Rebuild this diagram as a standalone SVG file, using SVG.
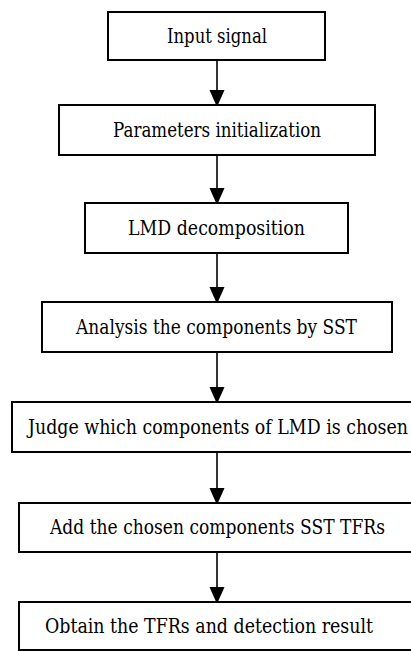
<svg xmlns="http://www.w3.org/2000/svg" width="411" height="651" viewBox="0 0 411 651">
  <style>
    .box { fill: #ffffff; stroke: #000000; stroke-width: 2; }
    .label { font-family: "DejaVu Serif", "Liberation Serif", serif; font-size: 20px; fill: #000000; text-anchor: middle; }
    .link { stroke: #000000; stroke-width: 1.6; fill: none; marker-end: url(#arrow); }
  </style>
  <defs>
    <marker id="arrow" viewBox="0 0 15 17" refX="15" refY="7.5" markerWidth="15" markerHeight="17" markerUnits="userSpaceOnUse" orient="auto">
      <path d="M0,0 L17,7.5 L0,15 Z" fill="#000000"/>
    </marker>
  </defs>
  <rect width="411" height="651" fill="#ffffff"/>

  <g id="connectors">
    <line class="link" x1="217" y1="61" x2="217" y2="105"/>
    <line class="link" x1="217" y1="156" x2="217" y2="203"/>
    <line class="link" x1="217" y1="254" x2="217" y2="302"/>
    <line class="link" x1="217" y1="353" x2="217" y2="402"/>
    <line class="link" x1="217" y1="453" x2="217" y2="503"/>
    <line class="link" x1="217" y1="553" x2="217" y2="602"/>
  </g>

  <g id="input-signal">
    <rect class="box" x="108" y="12" width="217" height="48"/>
    <text class="label" x="217" y="43" textLength="100" lengthAdjust="spacingAndGlyphs">Input signal</text>
  </g>
  <g id="parameters-initialization">
    <rect class="box" x="59" y="105" width="316" height="50"/>
    <text class="label" x="217" y="137" textLength="208" lengthAdjust="spacingAndGlyphs">Parameters initialization</text>
  </g>
  <g id="lmd-decomposition">
    <rect class="box" x="85" y="203" width="263" height="50"/>
    <text class="label" x="216.5" y="235" textLength="177" lengthAdjust="spacingAndGlyphs">LMD decomposition</text>
  </g>
  <g id="sst-analysis">
    <rect class="box" x="42" y="302" width="350" height="50"/>
    <text class="label" x="216.5" y="334" textLength="281" lengthAdjust="spacingAndGlyphs">Analysis the components by SST</text>
  </g>
  <!-- the three widest boxes run past the right edge of the page -->
  <g id="component-selection">
    <path class="box" d="M411,402 H12 V452 H411"/>
    <text class="label" x="218" y="434" textLength="380" lengthAdjust="spacingAndGlyphs">Judge which components of LMD is chosen</text>
  </g>
  <g id="tfr-sum">
    <path class="box" d="M411,503 H19 V552 H411"/>
    <text class="label" x="217.5" y="534" textLength="335" lengthAdjust="spacingAndGlyphs">Add the chosen components SST TFRs</text>
  </g>
  <g id="detection-result">
    <path class="box" d="M411,602 H19 V650 H411"/>
    <text class="label" x="209" y="633" textLength="328" lengthAdjust="spacingAndGlyphs">Obtain the TFRs and detection result</text>
  </g>
</svg>
